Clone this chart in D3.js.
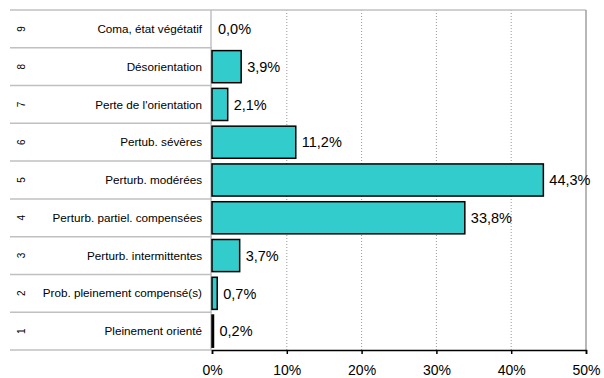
<!DOCTYPE html>
<html><head><meta charset="utf-8">
<script src="https://cdn.jsdelivr.net/npm/d3@7"></script>
<style>body{margin:0;background:#fff}svg{display:block}text{font-family:"Liberation Sans",Arial,sans-serif;fill:#000}</style>
</head><body><svg id="c" width="604" height="378"></svg>
<script>
const ranks = ["9","8","7","6","5","4","3","2","1"];
const categories = ["Coma, état végétatif","Désorientation","Perte de l'orientation","Pertub. sévères","Perturb. modérées","Perturb. partiel. compensées","Perturb. intermittentes","Prob. pleinement compensé(s)","Pleinement orienté"];
const values = [0.0, 3.9, 2.1, 11.2, 44.3, 33.8, 3.7, 0.7, 0.2];
const ticks = [0, 10, 20, 30, 40, 50];

(function () {
const svg = d3.select("#c");
const pL = 212, pR = 586, pT = 10, pB = 350;
const x = d3.scaleLinear().domain([0, 50]).range([pL, pR]);
const y = d3.scaleBand().domain(ranks).range([pT, pB]).paddingInner(0.15).paddingOuter(0.075);
const step = y.step();
const fmt = v => v.toFixed(1).replace(".", ",") + "%";

// gridlines
svg.append("g").selectAll("line").data(ticks.filter(t => t > 0 && t < 50)).join("line")
  .attr("x1", d => x(d)).attr("x2", d => x(d)).attr("y1", pT).attr("y2", pB)
  .attr("stroke", "#999").attr("stroke-width", 1).attr("stroke-dasharray", "1,2");

// table lines
const rowTops = ranks.map(r => y(r) - step * 0.075);
svg.append("g").selectAll("line").data(rowTops.concat([pB])).join("line")
  .attr("x1", 10).attr("x2", pL).attr("y1", d => d).attr("y2", d => d)
  .attr("stroke", "#c0c0c0").attr("stroke-width", 1.5);
// plot border
svg.append("line").attr("x1", pL).attr("x2", pR).attr("y1", pT).attr("y2", pT).attr("stroke", "#c0c0c0").attr("stroke-width", 1.5);
svg.append("line").attr("x1", pR).attr("x2", pR).attr("y1", pT).attr("y2", pB).attr("stroke", "#a0a0a0").attr("stroke-width", 1.5);
svg.append("line").attr("x1", pL - 1).attr("x2", pL - 1).attr("y1", pT).attr("y2", pB).attr("stroke", "#c0c0c0").attr("stroke-width", 1.5);

// bars
svg.append("g").selectAll("rect").data(values).join("rect")
  .attr("x", x(0)).attr("y", (d, i) => y(ranks[i]))
  .attr("width", d => x(d) - x(0)).attr("height", y.bandwidth())
  .attr("fill", "#33CCCC").attr("stroke", "#000").attr("stroke-width", 1.5)
  .style("display", d => d > 0 ? null : "none");

// value labels
svg.append("g").selectAll("text").data(values).join("text")
  .attr("x", d => x(d) + 6).attr("y", (d, i) => y(ranks[i]) + y.bandwidth() / 2)
  .attr("dy", "0.36em").attr("font-size", "14.5px").text(d => fmt(d));

// category labels
svg.append("g").selectAll("text").data(categories).join("text")
  .attr("x", 202).attr("y", (d, i) => y(ranks[i]) + y.bandwidth() / 2)
  .attr("dy", "0.35em").attr("text-anchor", "end").attr("font-size", "11.7px").text(d => d);

// rank numbers (rotated)
svg.append("g").selectAll("text").data(ranks).join("text")
  .attr("transform", d => `translate(21,${y(d) + y.bandwidth() / 2}) rotate(-90)`)
  .attr("dy", "0.35em").attr("text-anchor", "middle").attr("font-size", "10px").text(d => d);

// x axis
const ax = svg.append("g").attr("transform", `translate(0,${pB})`)
  .call(d3.axisBottom(x).tickValues(ticks).tickFormat(d => d + "%").tickSize(4).tickPadding(11));
ax.select(".domain").attr("stroke", "#000").attr("stroke-width", 1.5);
ax.selectAll(".tick line").attr("stroke", "#000").attr("stroke-width", 1.5);
ax.selectAll(".tick text").attr("font-size", "14px").attr("font-family", "Liberation Sans, Arial, sans-serif").attr("fill", "#000");
})();
</script></body></html>
